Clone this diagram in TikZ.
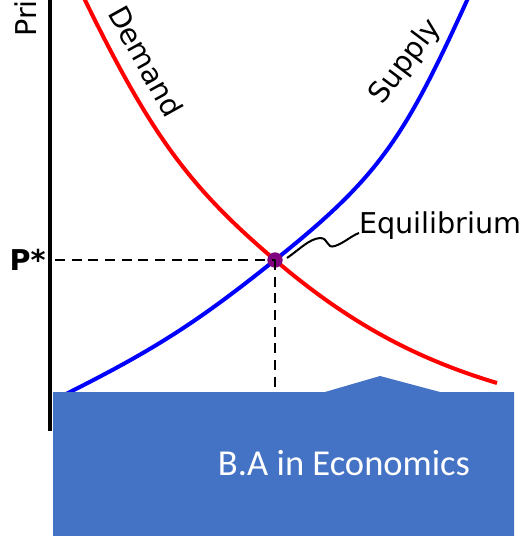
\documentclass[tikz,border=0pt]{standalone}
\usepackage{fontspec}
\setmainfont{DejaVu Sans}
\newfontfamily\bannerfont{Carlito}
\usetikzlibrary{calc, positioning}

\definecolor{bannerblue}{HTML}{4472C4}
\definecolor{eqpurple}{HTML}{800080}

\tikzset{
  curve/.style={line width=3pt},
  guide/.style={line width=2.2pt, dash pattern=on 7.5pt off 5pt},
  curvelabel/.style={font=\fontsize{21.5}{21.5}\selectfont, inner sep=0pt}
}

\begin{document}
\begin{tikzpicture}[x=0.75pt, y=-0.75pt]
\def\axisx{50}
\def\pstar{260}
\def\qstar{275}

\useasboundingbox (0,0) rectangle (530,536);

\coordinate (Atop) at (\axisx,0);
\coordinate (Abot) at (\axisx,431);
\coordinate (E) at (\qstar,\pstar);
\coordinate (PS) at (55,\pstar);
\coordinate (QS) at (\qstar,392);
\coordinate (Dtop) at (83,-4);
\coordinate (Dbot) at (497,383);
\coordinate (Stop) at (469,-4);
\coordinate (Sbot) at (60,397);

% axis
\draw[line width=3pt] (Atop) -- (Abot);
\node[curvelabel, rotate=90, anchor=south west] (pri) at (37,37) {Pri};

% curves
\draw[curve, red] (Dtop) .. controls (150.2,133.8) and (188.6,186.6) .. (E)
  .. controls (346.8,321.3) and (413.4,357.9) .. (Dbot);
\draw[curve, blue] (Sbot) .. controls (153.4,350.4) and (196.4,323) .. (E)
  .. controls (379.7,176.4) and (404.2,138.6) .. (Stop);

\node[curvelabel, rotate=-61] (demand) at (146,61) {Demand};
\node[curvelabel, rotate=53] (supply) at (406,62) {Supply};

% equilibrium
\node[circle, fill=eqpurple, minimum size=11.5pt, inner sep=0pt] (eq) at (E) {};
\draw[guide] (PS) -- (eq.center);
\draw[guide] (eq.center) -- (QS);
\node[font=\fontsize{21.5}{21.5}\selectfont\bfseries, anchor=east, inner sep=0pt] (plabel) at (46,\pstar) {P*};
\node[curvelabel, anchor=base west] (eqlabel) at (359,233) {Equilibrium};
\draw[line width=1.5pt] (287,258) .. controls (300,249) and (309,239) .. (320,238)
  .. controls (329,238) and (326,249) .. (335,246)
  .. controls (344,243) and (351,236) .. (eqlabel.base west);

% banner
\fill[bannerblue] (53,392) -- (325,392) -- (380,376) -- (440,392) -- (514,392)
  -- (514,536) -- (53,536) -- cycle;
\node[text=white, font=\bannerfont\fontsize{27.4}{27.4}\selectfont] (banner) at (344,463) {B.A in Economics};
\end{tikzpicture}
\end{document}
